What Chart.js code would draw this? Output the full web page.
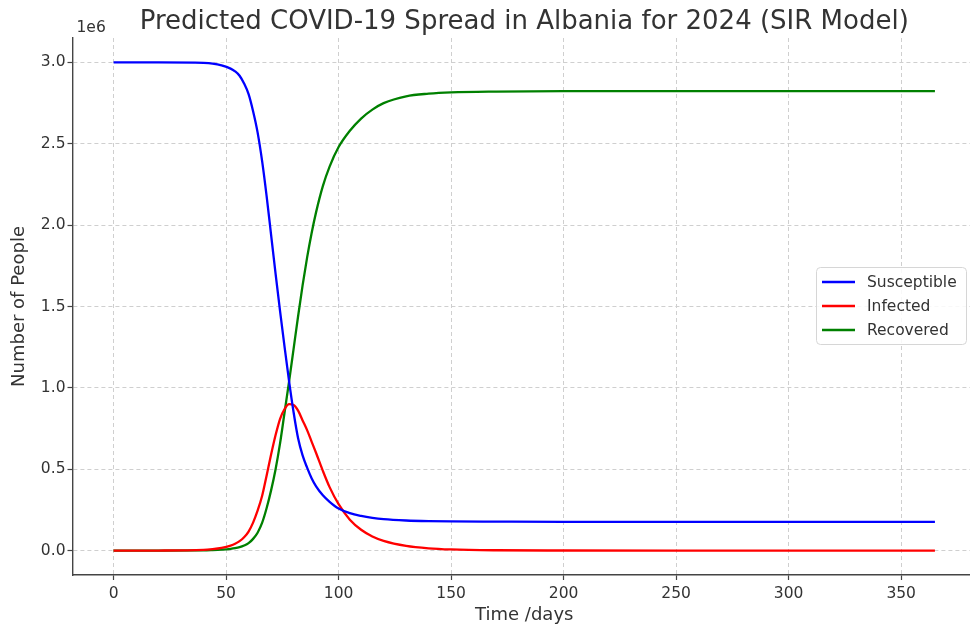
<!DOCTYPE html>
<html>
<head>
<meta charset="utf-8">
<script src="https://cdn.jsdelivr.net/npm/chart.js@4.4.1/dist/chart.umd.min.js"></script>
<style>
  html, body { margin: 0; padding: 0; background: #fff; overflow: hidden; }
  /* the original figure is cropped a few px inside the right spine */
  #wrap { width: 970px; height: 627px; overflow: hidden; }
</style>
</head>
<body>
<div id="wrap"><canvas id="sir" width="976" height="627"></canvas></div>
<script>
const TITLE = "Predicted COVID-19 Spread in Albania for 2024 (SIR Model)";
const X_LABEL = "Time /days";
const Y_LABEL = "Number of People";
const Y_OFFSET_LABEL = "1e6";

// sample days, values in millions of people
const days = [0, 20, 40, 44, 48, 52, 54, 56, 58, 60, 62, 64, 66, 68, 70, 72, 74, 76, 78, 80, 82, 84, 86, 88, 90, 93, 96, 100, 105, 110, 115, 120, 130, 140, 150, 170, 200, 250, 300, 365];
const susceptible = [3.0, 3.0, 2.997, 2.993, 2.982, 2.962, 2.945, 2.918, 2.87, 2.805, 2.7, 2.57, 2.395, 2.18, 1.94, 1.7, 1.47, 1.25, 1.04, 0.85, 0.69, 0.585, 0.51, 0.445, 0.395, 0.34, 0.3, 0.258, 0.23, 0.213, 0.201, 0.193, 0.185, 0.181, 0.179, 0.178, 0.177, 0.177, 0.177, 0.177];
const infected = [0, 0.0004, 0.004, 0.009, 0.017, 0.031, 0.042, 0.058, 0.082, 0.117, 0.172, 0.245, 0.335, 0.46, 0.59, 0.71, 0.81, 0.87, 0.9, 0.895, 0.86, 0.8, 0.74, 0.67, 0.6, 0.49, 0.39, 0.285, 0.19, 0.128, 0.087, 0.06, 0.029, 0.014, 0.007, 0.002, 0.0005, 0, 0, 0];
const recovered = [0, 0.0002, 0.001, 0.003, 0.006, 0.011, 0.015, 0.021, 0.031, 0.046, 0.072, 0.11, 0.17, 0.26, 0.37, 0.5, 0.66, 0.85, 1.04, 1.24, 1.44, 1.63, 1.8, 1.95, 2.08, 2.24, 2.36, 2.48, 2.58, 2.655, 2.71, 2.75, 2.792, 2.808, 2.816, 2.821, 2.823, 2.823, 2.823, 2.823];

const xTicks = [0, 50, 100, 150, 200, 250, 300, 350];
const yTicks = [0, 0.5, 1.0, 1.5, 2.0, 2.5, 3.0];

const TEXT = "#333333";
const GRID = "#cfcfcf";
const SPINE = "#444444";
const FONT = "'DejaVu Sans', sans-serif";

function toPoints(values) {
  return days.map((d, i) => ({ x: d, y: values[i] }));
}

function lineSet(label, values, color) {
  return {
    label: label,
    data: toPoints(values),
    borderColor: color,
    backgroundColor: color,
    borderWidth: 2.3,
    pointRadius: 0,
    cubicInterpolationMode: "monotone",
    fill: false,
  };
}

// title, offset text and boxed legend placed the way matplotlib does it
const decorations = {
  id: "decorations",
  afterDraw(chart) {
    const { ctx, chartArea } = chart;
    ctx.save();
    ctx.fillStyle = TEXT;
    ctx.textBaseline = "alphabetic";

    ctx.font = "26px " + FONT;
    ctx.textAlign = "center";
    ctx.fillText(TITLE, (chartArea.left + chartArea.right) / 2, 29);

    ctx.font = "15.5px " + FONT;
    ctx.textAlign = "left";
    ctx.fillText(Y_OFFSET_LABEL, chartArea.left + 4, 32);

    // legend box
    const bx = 816.5, by = 267.5, bw = 150, bh = 77, r = 4;
    ctx.beginPath();
    ctx.moveTo(bx + r, by);
    ctx.lineTo(bx + bw - r, by);
    ctx.quadraticCurveTo(bx + bw, by, bx + bw, by + r);
    ctx.lineTo(bx + bw, by + bh - r);
    ctx.quadraticCurveTo(bx + bw, by + bh, bx + bw - r, by + bh);
    ctx.lineTo(bx + r, by + bh);
    ctx.quadraticCurveTo(bx, by + bh, bx, by + bh - r);
    ctx.lineTo(bx, by + r);
    ctx.quadraticCurveTo(bx, by, bx + r, by);
    ctx.closePath();
    ctx.fillStyle = "rgba(255,255,255,0.85)";
    ctx.fill();
    ctx.strokeStyle = "#d6d6d6";
    ctx.lineWidth = 1;
    ctx.stroke();

    ctx.textBaseline = "middle";
    chart.data.datasets.forEach((ds, i) => {
      const y = 282 + i * 24;
      ctx.strokeStyle = ds.borderColor;
      ctx.lineWidth = 2.3;
      ctx.beginPath();
      ctx.moveTo(822, y);
      ctx.lineTo(855, y);
      ctx.stroke();
      ctx.fillStyle = TEXT;
      ctx.fillText(ds.label, 867, y + 1);
    });
    ctx.restore();
  },
};

new Chart(document.getElementById("sir").getContext("2d"), {
  type: "line",
  data: {
    datasets: [
      lineSet("Susceptible", susceptible, "#0000ff"),
      lineSet("Infected", infected, "#ff0000"),
      lineSet("Recovered", recovered, "#008000"),
    ],
  },
  options: {
    responsive: false,
    devicePixelRatio: 1,
    animation: false,
    layout: { padding: { top: 38, right: 0, bottom: 0, left: 0 } },
    plugins: {
      legend: { display: false },
      title: { display: false },
      tooltip: { enabled: false },
    },
    scales: {
      x: {
        type: "linear",
        min: -18.25,
        max: 383.25,
        afterBuildTicks: (scale) => { scale.ticks = xTicks.map((v) => ({ value: v })); },
        afterFit: (scale) => { scale.height = 52; },
        ticks: {
          color: TEXT,
          font: { family: FONT, size: 15.5 },
          padding: 4.5,
          maxRotation: 0,
          callback: (v) => String(v),
        },
        grid: { color: GRID, lineWidth: 1, tickColor: SPINE, tickLength: 5, tickWidth: 1.2, tickBorderDash: [] },
        border: { display: true, color: SPINE, width: 1.4, dash: [4, 3] },
        title: { display: true, text: X_LABEL, color: TEXT, font: { family: FONT, size: 18 }, padding: { top: 0, bottom: 1 } },
      },
      y: {
        type: "linear",
        min: -0.15,
        max: 3.15,
        afterBuildTicks: (scale) => { scale.ticks = yTicks.map((v) => ({ value: v })); },
        afterFit: (scale) => { scale.width = 72.5; },
        ticks: {
          color: TEXT,
          font: { family: FONT, size: 15.5 },
          padding: 2,
          callback: (v) => Number(v).toFixed(1),
        },
        grid: { color: GRID, lineWidth: 1, tickColor: SPINE, tickLength: 5, tickWidth: 1.2, tickBorderDash: [] },
        border: { display: true, color: SPINE, width: 1.4, dash: [4, 3] },
        title: { display: true, text: Y_LABEL, color: TEXT, font: { family: FONT, size: 18 }, padding: { top: 8.4, bottom: 0 } },
      },
    },
  },
  plugins: [decorations],
});
</script>
</body>
</html>
